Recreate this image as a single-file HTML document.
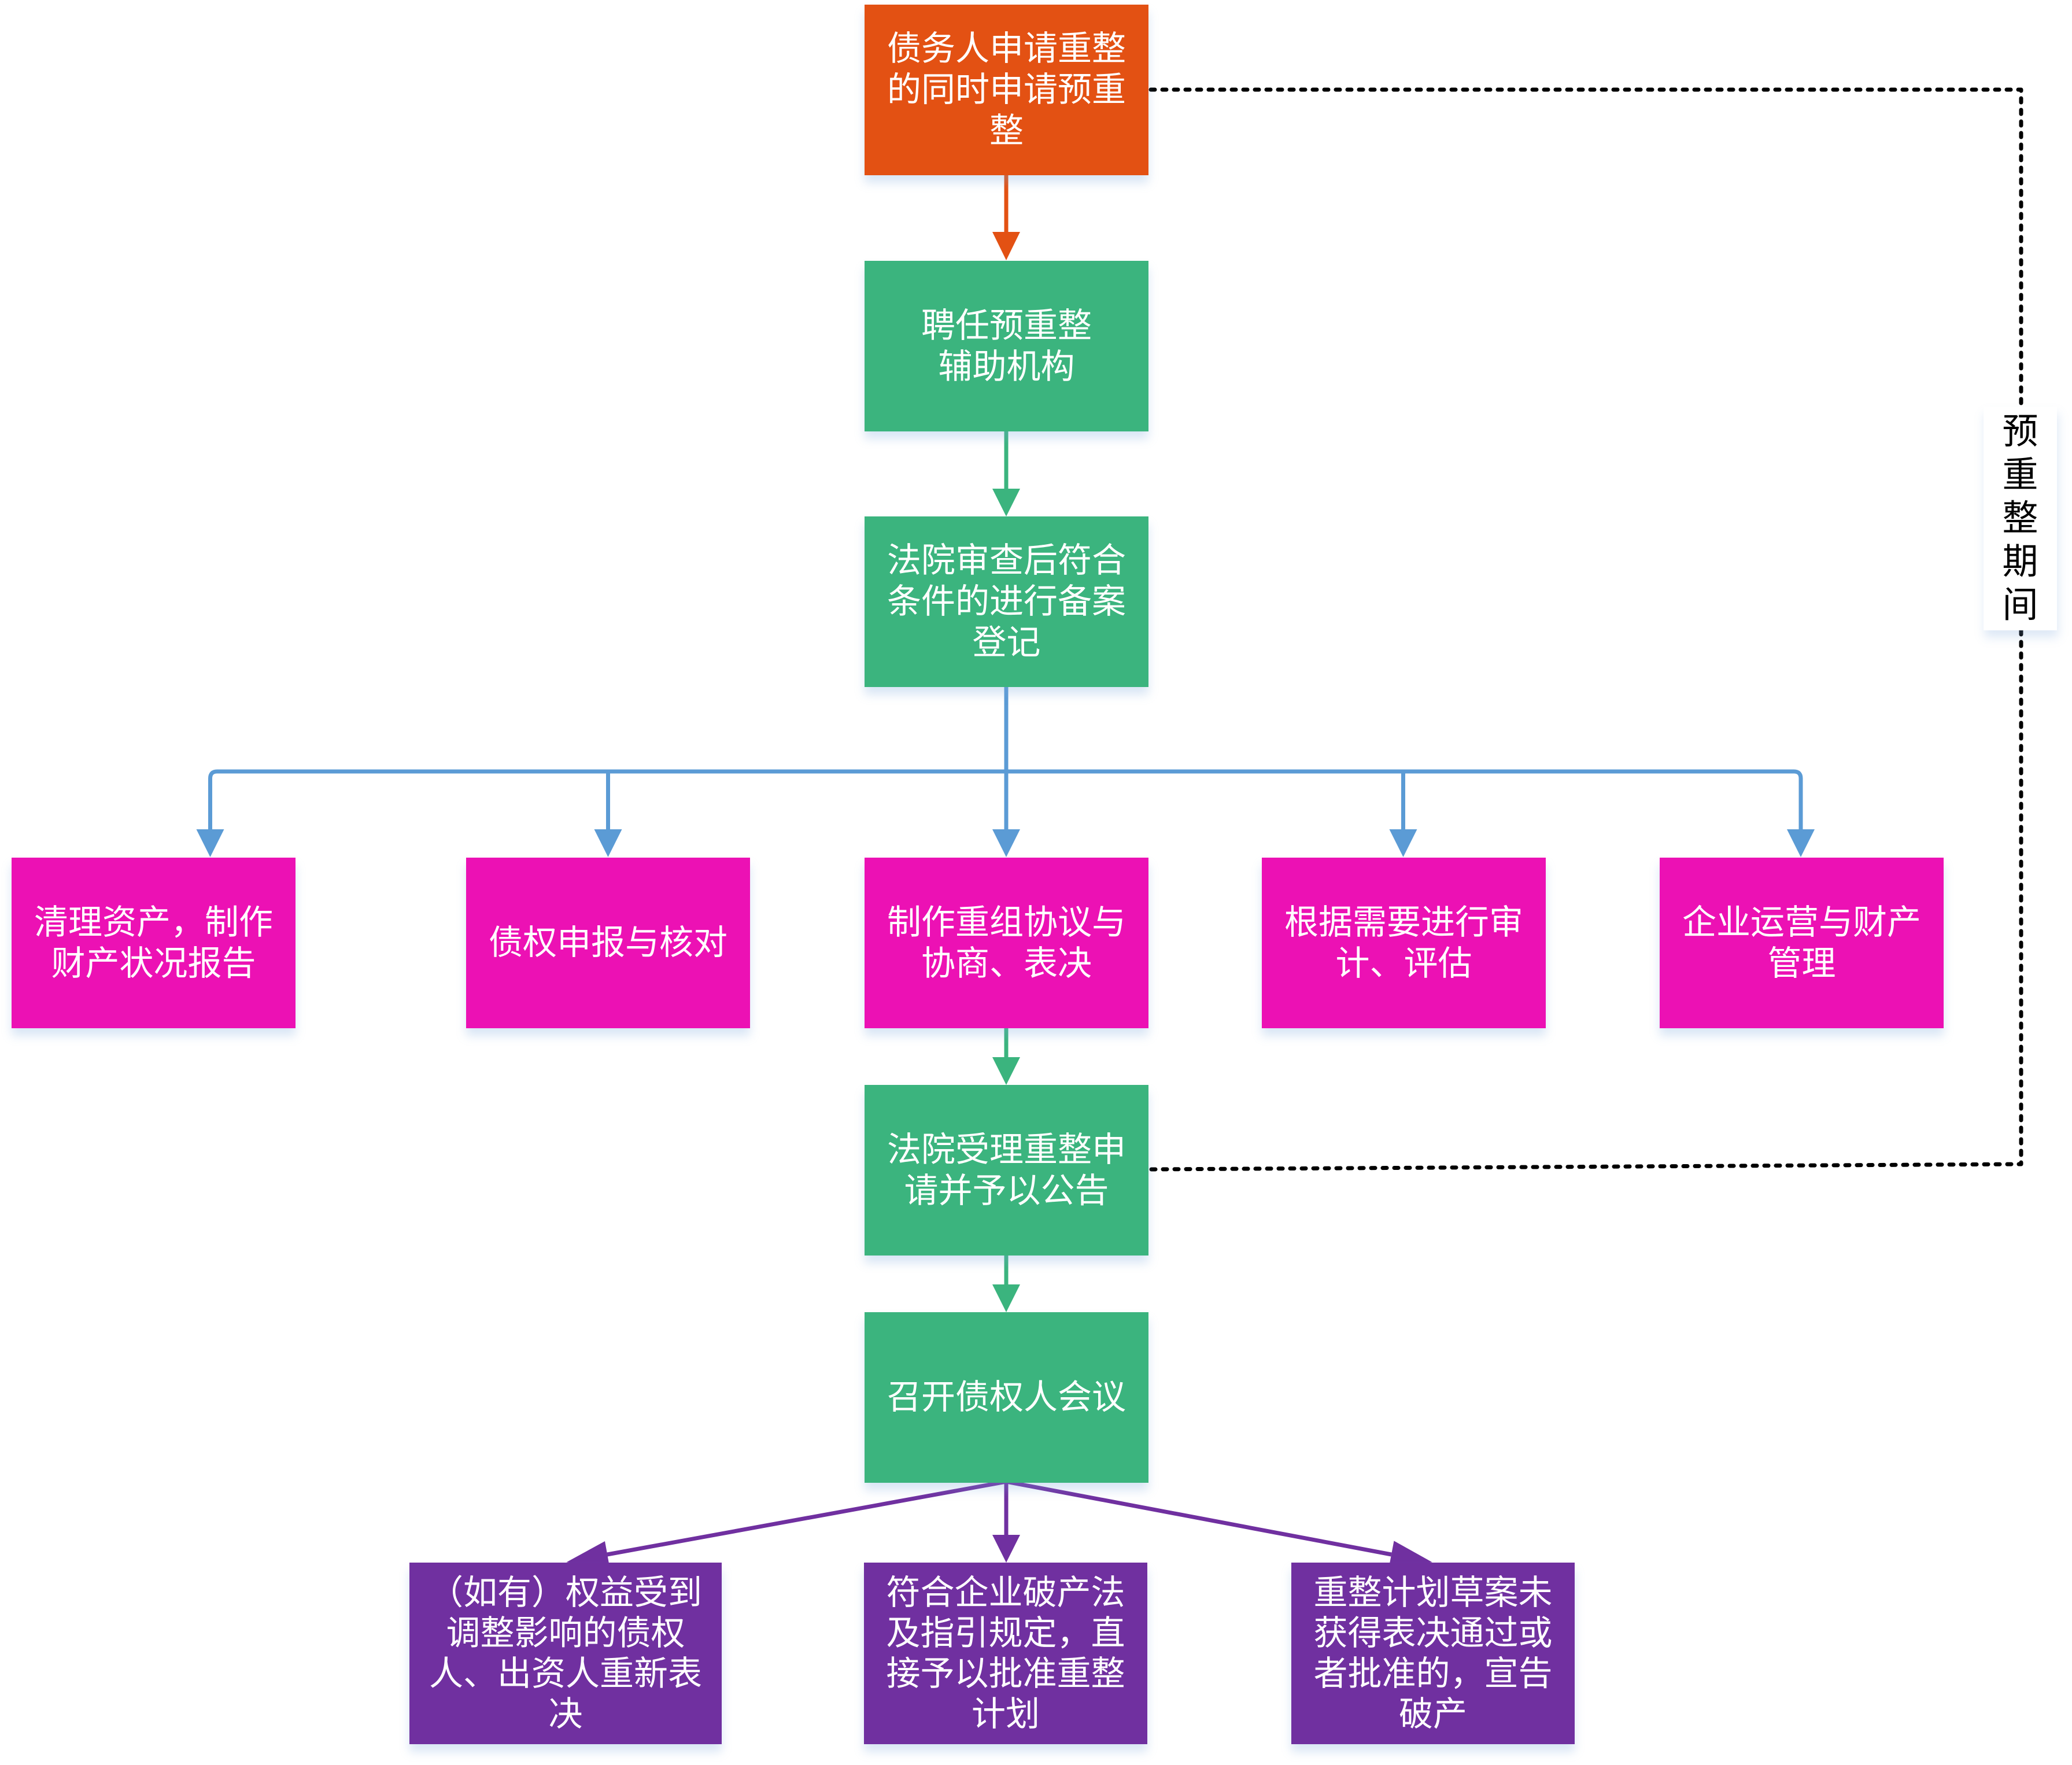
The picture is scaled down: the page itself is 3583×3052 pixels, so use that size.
<!DOCTYPE html>
<html>
<head>
<meta charset="utf-8">
<style>
  html,body{margin:0;padding:0;background:#fff;}
  body{width:3583px;height:3052px;position:relative;overflow:hidden;
       font-family:"Liberation Sans","Noto Sans CJK SC","WenQuanYi Zen Hei",sans-serif;}
  svg{position:absolute;left:0;top:0;}
  .b{position:absolute;display:flex;align-items:center;justify-content:center;
     text-align:center;color:#fff;font-size:59px;line-height:71px;white-space:nowrap;
     box-shadow:0 13px 16px rgba(120,165,220,0.28);}
  .o{background:#E35113;}
  .g{background:#3BB47E;}
  .p{background:#EC11B4;}
  .u{background:#7030A0;line-height:70px;}
  .lbl{position:absolute;left:3430px;top:703px;width:127px;height:387px;background:#fff;
       display:flex;align-items:center;justify-content:center;text-align:center;
       color:#000;font-size:62px;line-height:75px;
       box-shadow:2px 12px 16px rgba(120,165,220,0.25);}
</style>
</head>
<body>
<svg width="3583" height="3052" viewBox="0 0 3583 3052">
  <!-- dotted period line -->
  <path d="M1990,155 L3495,155 L3495,2013 L1990,2022" fill="none" stroke="#000" stroke-width="7"
        stroke-dasharray="7 13" stroke-linecap="round" stroke-linejoin="round"/>
  <!-- orange arrow -->
  <line x1="1740" y1="303" x2="1740" y2="410" stroke="#E35113" stroke-width="7"/>
  <polygon points="1716,401 1764,401 1740,450" fill="#E35113"/>
  <!-- green arrow box2->box3 -->
  <line x1="1740" y1="746" x2="1740" y2="850" stroke="#3BB47E" stroke-width="7"/>
  <polygon points="1716,845 1764,845 1740,893" fill="#3BB47E"/>
  <!-- blue tree -->
  <line x1="1740" y1="1188" x2="1740" y2="1440" stroke="#5B9BD5" stroke-width="7"/>
  <path d="M363.5,1440 L363.5,1346 Q363.5,1334 375.5,1334 L3102,1334 Q3114,1334 3114,1346 L3114,1440"
        fill="none" stroke="#5B9BD5" stroke-width="7"/>
  <line x1="1051.5" y1="1334" x2="1051.5" y2="1440" stroke="#5B9BD5" stroke-width="7"/>
  <line x1="2426.5" y1="1334" x2="2426.5" y2="1440" stroke="#5B9BD5" stroke-width="7"/>
  <polygon points="339.5,1434 387.5,1434 363.5,1482" fill="#5B9BD5"/>
  <polygon points="1027.5,1434 1075.5,1434 1051.5,1482" fill="#5B9BD5"/>
  <polygon points="1716,1434 1764,1434 1740,1482" fill="#5B9BD5"/>
  <polygon points="2402.5,1434 2450.5,1434 2426.5,1482" fill="#5B9BD5"/>
  <polygon points="3090,1434 3138,1434 3114,1482" fill="#5B9BD5"/>
  <!-- green arrows lower -->
  <line x1="1740" y1="1778" x2="1740" y2="1833" stroke="#3BB47E" stroke-width="7"/>
  <polygon points="1716,1828 1764,1828 1740,1876" fill="#3BB47E"/>
  <line x1="1740" y1="2171" x2="1740" y2="2226" stroke="#3BB47E" stroke-width="7"/>
  <polygon points="1716,2221 1764,2221 1740,2269" fill="#3BB47E"/>
  <!-- purple arrows -->
  <line x1="1740" y1="2562" x2="1740" y2="2660" stroke="#7030A0" stroke-width="7"/>
  <polygon points="1716,2654 1764,2654 1740,2702" fill="#7030A0"/>
  <line x1="1740" y1="2562" x2="1050" y2="2688" stroke="#7030A0" stroke-width="7"/>
  <polygon points="1046,2665 979.5,2701.4 1054.6,2712.1" fill="#7030A0"/>
  <line x1="1740" y1="2562" x2="2406" y2="2688" stroke="#7030A0" stroke-width="7"/>
  <polygon points="2410.5,2664.4 2476.7,2701.4 2401.5,2711.6" fill="#7030A0"/>
</svg>

<div class="b o" style="left:1495px;top:8px;width:491px;height:295px;">债务人申请重整<br>的同时申请预重<br>整</div>
<div class="b g" style="left:1495px;top:451px;width:491px;height:295px;">聘任预重整<br>辅助机构</div>
<div class="b g" style="left:1495px;top:893px;width:491px;height:295px;">法院审查后符合<br>条件的进行备案<br>登记</div>

<div class="b p" style="left:20px;top:1483px;width:491px;height:295px;">清理资产，制作<br>财产状况报告</div>
<div class="b p" style="left:806px;top:1483px;width:491px;height:295px;">债权申报与核对</div>
<div class="b p" style="left:1495px;top:1483px;width:491px;height:295px;">制作重组协议与<br>协商、表决</div>
<div class="b p" style="left:2182px;top:1483px;width:491px;height:295px;">根据需要进行审<br>计、评估</div>
<div class="b p" style="left:2870px;top:1483px;width:491px;height:295px;">企业运营与财产<br>管理</div>

<div class="b g" style="left:1495px;top:1876px;width:491px;height:295px;">法院受理重整申<br>请并予以公告</div>
<div class="b g" style="left:1495px;top:2269px;width:491px;height:295px;">召开债权人会议</div>

<div class="b u" style="left:708px;top:2702px;width:540px;height:314px;">（如有）权益受到<br>调整影响的债权<br>人、出资人重新表<br>决</div>
<div class="b u" style="left:1494px;top:2702px;width:490px;height:314px;">符合企业破产法<br>及指引规定，直<br>接予以批准重整<br>计划</div>
<div class="b u" style="left:2233px;top:2702px;width:490px;height:314px;">重整计划草案未<br>获得表决通过或<br>者批准的，宣告<br>破产</div>

<div class="lbl">预<br>重<br>整<br>期<br>间</div>
</body>
</html>
